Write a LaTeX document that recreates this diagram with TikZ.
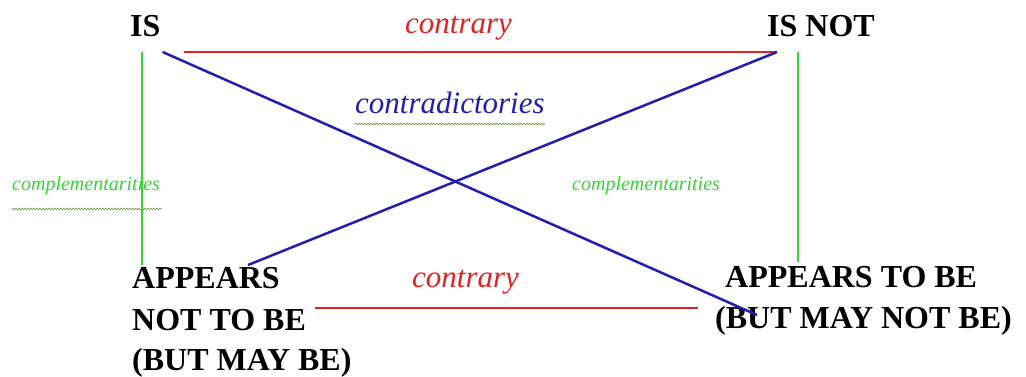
\documentclass[tikz,border=0pt]{standalone}
\usepackage{fontspec}
\setmainfont{Liberation Serif}
\usetikzlibrary{decorations.pathmorphing}
\definecolor{cred}{RGB}{225,35,35}
\definecolor{cblue}{RGB}{35,30,175}
\definecolor{cgreen}{RGB}{50,215,50}
\definecolor{wavy}{RGB}{110,150,60}
\tikzset{
  term/.style={anchor=base west, inner sep=0pt, font=\bfseries\fontsize{32}{38}\selectfont, text=black},
  lab/.style={anchor=base west, inner sep=0pt, font=\itshape\fontsize{31}{36}\selectfont},
  smalllab/.style={anchor=base west, inner sep=0pt, font=\itshape\fontsize{20}{24}\selectfont, text=cgreen},
  contraryline/.style={draw=cred, line width=2.5pt},
  contraline/.style={draw=cblue, line width=2.5pt},
  compline/.style={draw=cgreen, line width=2.2pt},
  squiggle/.style={draw=wavy, line width=0.6pt, decorate, decoration={snake, segment length=3pt, amplitude=0.9pt}}
}
\begin{document}
\begin{tikzpicture}[x=1pt,y=-1pt]
\useasboundingbox (0,0) rectangle (1026,376);
% terms
\node[term] (is) at (130,36) {IS};
\node[term] (isnot) at (767,36) {IS NOT};
\node[term] (anp1) at (132,288) {APPEARS};
\node[term] (anp2) at (132,330) {NOT TO BE};
\node[term] (anp3) at (132,370) {(BUT MAY BE)};
\node[term] (ap1) at (725,287) {APPEARS TO BE};
\node[term] (ap2) at (715,328) {(BUT MAY NOT BE)};
% labels
\node[lab, text=cred] (ctop) at (405,33) {contrary};
\node[lab, text=cred] (cbot) at (412,287) {contrary};
\node[lab, text=cblue] (contra) at (355,113) {contradictories};
\node[smalllab] (compL) at (12,190) {complementarities};
\node[smalllab] (compR) at (572,190) {complementarities};
% spell-check squiggles
\draw[squiggle] ([shift={(0,11)}]contra.base west) -- ([shift={(0,11)}]contra.base east);
\draw[squiggle] ([shift={(0,19)}]compL.base west) -- ([shift={(2,19)}]compL.base east);
% contraries
\draw[contraryline] ([shift={(23,16)}]is.base east) -- ([shift={(10,16)}]isnot.base west);
\draw[contraryline] ([shift={(9,-22)}]anp2.base east) -- ([shift={(-17,-20)}]ap2.base west);
% contradictories
\draw[contraline] ([shift={(2,16)}]is.base east) -- ([shift={(42,-13)}]ap2.base west);
\draw[contraline] ([shift={(10,16)}]isnot.base west) -- ([shift={(116,-23)}]anp1.base west);
% complementarities
\draw[compline] ([shift={(12,16)}]is.base west) -- ([shift={(10,-23)}]anp1.base west);
\draw[compline] ([shift={(31,16)}]isnot.base west) -- ([shift={(73,-25)}]ap1.base west);
\end{tikzpicture}
\end{document}
